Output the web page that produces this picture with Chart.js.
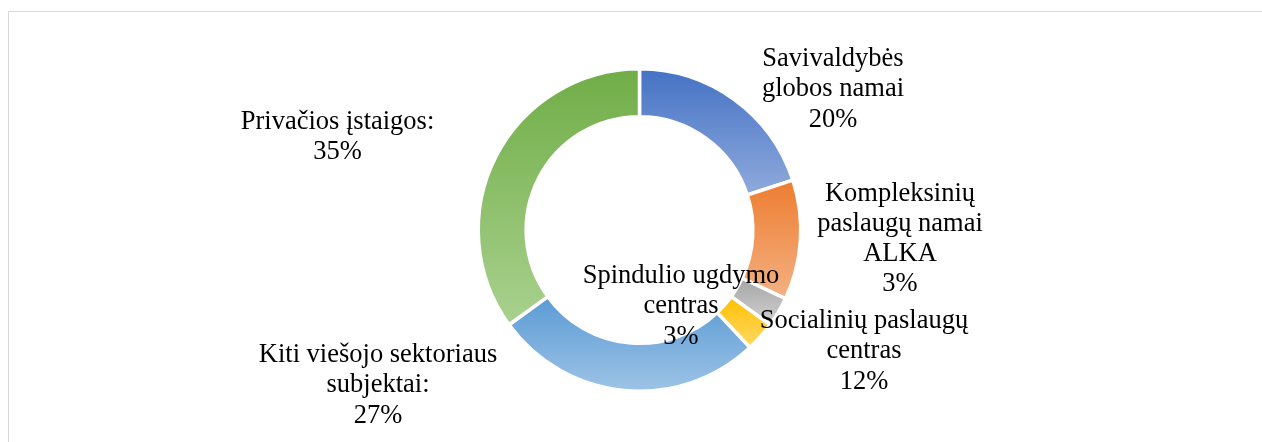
<!DOCTYPE html>
<html>
<head>
<meta charset="utf-8">
<script src="https://cdn.jsdelivr.net/npm/chart.js@4.4.1/dist/chart.umd.min.js"></script>
<style>
  html, body { margin: 0; padding: 0; background: #ffffff; overflow: hidden; width: 1262px; height: 442px; }
  #frame { position: absolute; left: 8px; top: 11px; width: 1500px; height: 600px;
           border-left: 1px solid #d9d9d9; border-top: 1px solid #d9d9d9; box-sizing: border-box; }
  #wrap { position: absolute; left: 0; top: 0; width: 1262px; height: 442px; }
</style>
</head>
<body>
<div id="frame"></div>
<div id="wrap"><canvas id="c"></canvas></div>
<script>
// ---- data ----
const categories = [
  ["Savivaldybės", "globos namai"],
  ["Socialinių paslaugų", "centras"],
  ["Kompleksinių", "paslaugų namai", "ALKA"],
  ["Spindulio ugdymo", "centras"],
  ["Kiti viešojo sektoriaus", "subjektai:"],
  ["Privačios įstaigos:"]
];
const shares = [20, 12, 3, 3, 27, 35];
const topColors = ["#4472C4", "#ED7D31", "#A5A5A5", "#FFC000", "#5B9BD5", "#70AD47"];
const bottomColors = ["#8FAADC", "#F4B183", "#D2D2D2", "#FFD966", "#9DC3E6", "#A9D18E"];

// label anchor offsets (first baseline) relative to the doughnut centre
const labelOffsets = [
  [193.5, -164], [224.5, 98], [260.5, -29.5], [41.5, 53], [-261.5, 132], [-302, -101]
];
const lineStep = 30.3;

function segmentGradient(ctx) {
  const i = ctx.dataIndex;
  const chart = ctx.chart;
  const area = chart.chartArea;
  if (i === undefined || !area) return topColors[i || 0];
  const ctrl = chart.getDatasetMeta(0).controller;
  const R = ctrl.outerRadius, r = ctrl.innerRadius;
  if (!R) return topColors[i];
  const cy = (area.top + area.bottom) / 2 + (ctrl.offsetY || 0);
  const total = shares.reduce((a, b) => a + b, 0);
  let cum = 0;
  for (let k = 0; k < i; k++) cum += shares[k];
  const a0 = -Math.PI / 2 + 2 * Math.PI * cum / total;
  const a1 = a0 + 2 * Math.PI * shares[i] / total;
  const ys = [];
  [a0, a1].forEach(a => { ys.push(cy + R * Math.sin(a)); ys.push(cy + r * Math.sin(a)); });
  const inRange = a => {
    for (let t = a - 4 * Math.PI; t <= a + 4 * Math.PI; t += 2 * Math.PI) {
      if (t >= a0 && t <= a1) return true;
    }
    return false;
  };
  if (inRange(Math.PI / 2)) ys.push(cy + R);
  if (inRange(-Math.PI / 2)) ys.push(cy - R);
  const y0 = Math.min(...ys), y1 = Math.max(...ys);
  const g = chart.ctx.createLinearGradient(0, y0, 0, y1);
  g.addColorStop(0, topColors[i]);
  g.addColorStop(1, bottomColors[i]);
  return g;
}

const labelPlugin = {
  id: 'segLabels',
  afterDatasetsDraw(chart) {
    const ctx = chart.ctx;
    const meta = chart.getDatasetMeta(0);
    const total = shares.reduce((a, b) => a + b, 0);
    ctx.save();
    ctx.font = '26.5px "Liberation Serif", "Times New Roman", serif';
    ctx.fillStyle = '#000000';
    ctx.textAlign = 'center';
    ctx.textBaseline = 'alphabetic';
    meta.data.forEach((arc, i) => {
      const lines = categories[i].concat([Math.round(shares[i] / total * 100) + '%']);
      const x = arc.x + labelOffsets[i][0];
      const y = arc.y + labelOffsets[i][1];
      lines.forEach((ln, j) => ctx.fillText(ln, x, y + j * lineStep));
    });
    ctx.restore();
  }
};

new Chart(document.getElementById('c'), {
  type: 'doughnut',
  data: {
    labels: categories,
    datasets: [{
      data: shares,
      backgroundColor: segmentGradient,
      hoverBackgroundColor: segmentGradient,
      borderColor: '#ffffff',
      borderWidth: 3.5
    }]
  },
  options: {
    responsive: true,
    maintainAspectRatio: false,
    animation: false,
    cutout: '70.3%',
    layout: { padding: { left: 17, right: 0, top: 67, bottom: 49 } },
    plugins: {
      legend: { display: false },
      tooltip: { enabled: false }
    },
    events: []
  },
  plugins: [labelPlugin]
});
</script>
</body>
</html>
